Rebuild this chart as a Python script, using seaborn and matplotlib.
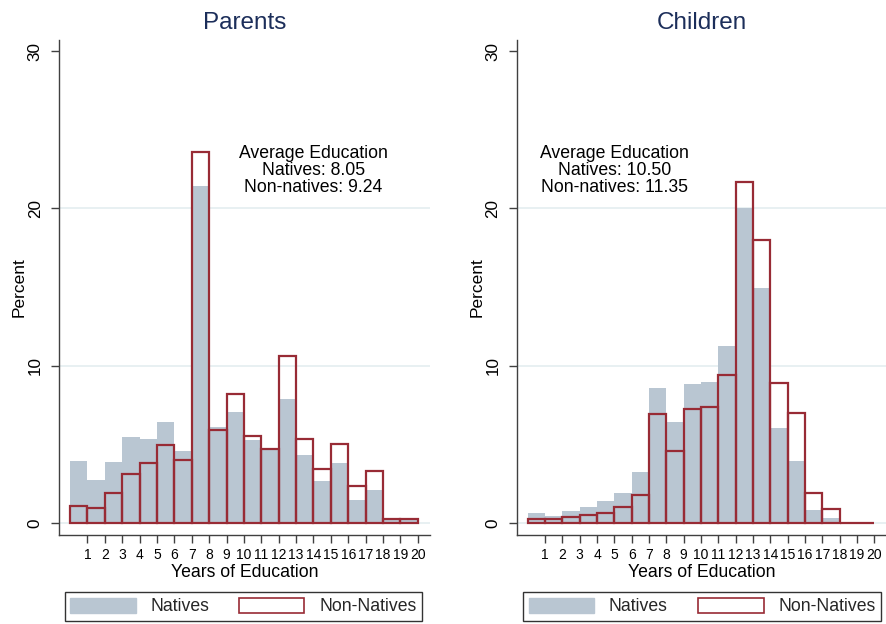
import numpy as np
import pandas as pd
import matplotlib
matplotlib.use("Agg")
import matplotlib.pyplot as plt
import seaborn as sns
from matplotlib.patches import Patch

# ---------------- data ----------------
years = list(range(0, 20))                 # bin left edges (bars span [y, y+1])
tick_years = list(range(1, 21))            # axis tick labels

parents_natives = [3.96, 2.75, 3.90, 5.49, 5.36, 6.44, 4.60, 21.44, 6.12, 7.08,
                   5.32, 4.75, 7.92, 4.34, 2.69, 3.85, 1.48, 2.12, 0.20, 0.25]
parents_nonnatives = [1.12, 0.99, 1.95, 3.11, 3.81, 5.00, 4.00, 23.56, 5.91, 8.22,
                      5.53, 4.72, 10.66, 5.34, 3.47, 5.06, 2.39, 3.33, 0.25, 0.27]

children_natives = [0.68, 0.47, 0.80, 1.04, 1.44, 1.95, 3.28, 8.62, 6.44, 8.86,
                    8.98, 11.27, 20.02, 14.96, 6.06, 3.96, 0.87, 0.36, 0.05, 0.02]
children_nonnatives = [0.25, 0.30, 0.38, 0.51, 0.64, 1.04, 1.82, 6.93, 4.62, 7.29,
                       7.39, 9.43, 21.69, 17.99, 8.90, 6.99, 1.95, 0.93, 0.05, 0.03]

panel_titles = ["Parents", "Children"]
avg_text = ["Average Education\nNatives: 8.05\nNon-natives: 9.24",
            "Average Education\nNatives: 10.50\nNon-natives: 11.35"]
avg_pos_x = [14, 5]
y_ticks = [0, 10, 20, 30]
legend_labels = ["Natives", "Non-Natives"]

# ---------------- style ----------------
sns.set_theme(style="white")
plt.rcParams["font.family"] = ["Liberation Sans", "DejaVu Sans"]

GRAY = "#b9c6d2"
RED = "#982b35"
NAVY = "#1c2e5a"
GRID = "#e8f0f2"
AXC = "#404040"

fig = plt.figure(figsize=(8.87, 6.24), dpi=100)
ax_rects = [[0.0662, 0.1426, 0.4186, 0.7933],
            [0.5823, 0.1426, 0.4170, 0.7933]]
leg_rects = [(0.0733, 0.0016, 0.4025, 0.0529),
             (0.5900, 0.0016, 0.4033, 0.0529)]

datasets = [(parents_natives, parents_nonnatives),
            (children_natives, children_nonnatives)]

for i in range(2):
    ax = fig.add_axes(ax_rects[i])
    nat, non = datasets[i]
    df = pd.DataFrame({"years": years, "natives": nat, "nonnatives": non})
    for gy in y_ticks[:-1]:
        ax.axhline(gy, color=GRID, lw=1.4, zorder=0)
    sns.histplot(data=df, x="years", weights="natives", binwidth=1, binrange=(0, 20),
                 stat="count", color=GRAY, alpha=1, linewidth=0, ax=ax, zorder=2)
    sns.histplot(data=df, x="years", weights="nonnatives", binwidth=1, binrange=(0, 20),
                 stat="count", fill=False, color=RED, linewidth=1.6, ax=ax, zorder=3)
    ax.set_xlim(-0.65, 20.7)
    ax.set_ylim(-0.74, 30.7)
    ax.set_xticks(tick_years)
    ax.set_xticklabels([str(t) for t in tick_years], fontsize=10)
    ax.set_yticks(y_ticks)
    ax.set_yticklabels([str(t) for t in y_ticks], fontsize=12.3, rotation=90, va="center")
    ax.tick_params(axis="x", direction="out", length=6, width=1, color=AXC, pad=3,
                   bottom=True, labelcolor="black")
    ax.tick_params(axis="y", direction="out", length=5.5, width=1, color=AXC, pad=6,
                   left=True, labelcolor="black")
    for s in ["top", "right"]:
        ax.spines[s].set_visible(False)
    for s in ["left", "bottom"]:
        ax.spines[s].set_color(AXC)
        ax.spines[s].set_linewidth(1.0)
    ax.set_xlabel("Years of Education", fontsize=12.7, labelpad=2, color="black")
    ax.set_ylabel("Percent", fontsize=12.5, labelpad=1, color="black")
    ax.set_title(panel_titles[i], fontsize=17.5, color=NAVY, pad=8)
    ax.text(avg_pos_x[i], 24.05, avg_text[i], ha="center", va="top",
            multialignment="center", fontsize=12.7, linespacing=1.0, color="black")
    handles = [Patch(facecolor=GRAY, edgecolor=GRAY, label=legend_labels[0]),
               Patch(facecolor="white", edgecolor=RED, linewidth=1.2, label=legend_labels[1])]
    leg = ax.legend(handles=handles, ncol=2, loc="center",
                    bbox_to_anchor=leg_rects[i], bbox_transform=fig.transFigure,
                    mode="expand", fancybox=False, frameon=True, fontsize=12.7,
                    handlelength=3.7, handleheight=0.97, handletextpad=0.85,
                    columnspacing=1.8, borderaxespad=0, borderpad=0.3)
    leg.get_frame().set_edgecolor("black")
    leg.get_frame().set_linewidth(1.0)

fig.savefig("out.png", dpi=100)
